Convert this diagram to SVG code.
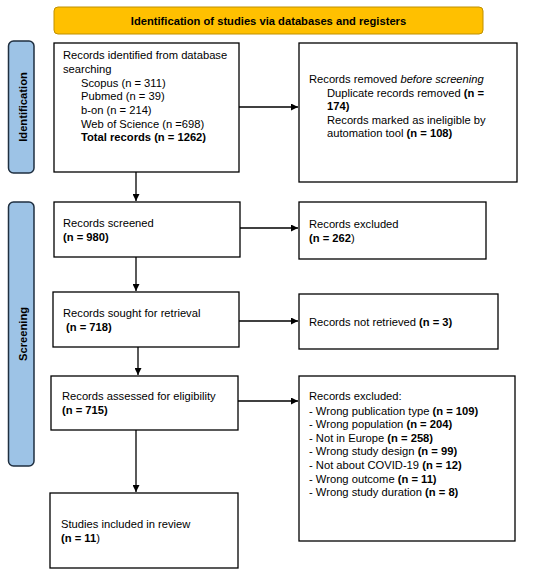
<svg xmlns="http://www.w3.org/2000/svg" width="550" height="575" viewBox="0 0 550 575">
<style>
text{font-family:"Liberation Sans",Arial,sans-serif;font-size:11.2px;fill:#000}
.b{font-weight:bold}
.box{fill:#fff;stroke:#000;stroke-width:1.3}
.side{fill:#9DC3E6;stroke:#1F2F40;stroke-width:1.5}
.hdr{fill:#FFC000;stroke:#BF9000;stroke-width:1}
.con{stroke:#000;stroke-width:1.3;fill:none;marker-end:url(#ah)}
</style>
<defs>
<marker id="ah" viewBox="0 0 10 10" refX="10" refY="5" markerWidth="7" markerHeight="7" markerUnits="userSpaceOnUse" orient="auto">
<path d="M0,0 L10,5 L0,10 z" fill="#000"/>
</marker>
</defs>
<rect width="550" height="575" fill="#fff"/>
<g id="header">
<rect class="hdr" x="54" y="7" width="429" height="27" rx="4"/>
<text class="b" x="268.5" y="24.5" text-anchor="middle" font-size="11.1">Identification of studies via databases and registers</text>
</g>
<g id="side-identification">
<rect class="side" x="8.5" y="41" width="25.5" height="132" rx="5"/>
<text class="b" transform="translate(26.5,107) rotate(-90)" text-anchor="middle" font-size="11">Identification</text>
</g>
<g id="side-screening">
<rect class="side" x="8.5" y="202" width="25.5" height="264" rx="5"/>
<text class="b" transform="translate(26.5,334) rotate(-90)" text-anchor="middle" font-size="11">Screening</text>
</g>
<g id="connectors">
<line class="con" x1="239" y1="107" x2="298" y2="107"/>
<line class="con" x1="136" y1="172" x2="136" y2="201"/>
<line class="con" x1="240" y1="228" x2="298" y2="228"/>
<line class="con" x1="136" y1="257" x2="136" y2="291"/>
<line class="con" x1="239" y1="321" x2="298" y2="321"/>
<line class="con" x1="138" y1="347" x2="138" y2="375"/>
<line class="con" x1="238" y1="401" x2="298" y2="401"/>
<line class="con" x1="136" y1="430" x2="136" y2="492"/>
</g>
<g id="n-identified">
<rect class="box" x="54" y="43" width="185" height="129"/>
<text x="63" y="59">Records identified from database</text>
<text x="63" y="73">searching</text>
<text x="81" y="86.5">Scopus (n = 311)</text>
<text x="81" y="100">Pubmed (n = 39)</text>
<text x="81" y="114">b-on (n = 214)</text>
<text x="81" y="127.5">Web of Science (n =698)</text>
<text x="81" y="141" class="b">Total records (n = 1262)</text>
</g>
<g id="n-removed">
<rect class="box" x="299" y="43" width="218" height="139"/>
<text x="309" y="83">Records removed <tspan font-style="italic">before screening</tspan></text>
<text x="327" y="96.5">Duplicate records removed <tspan class="b">(n =</tspan></text>
<text x="327" y="110" class="b">174)</text>
<text x="327" y="123.5">Records marked as ineligible by</text>
<text x="327" y="137">automation tool <tspan class="b">(n = 108)</tspan></text>
</g>
<g id="n-screened">
<rect class="box" x="54" y="202" width="186" height="55"/>
<text x="63" y="227">Records screened</text>
<text x="63" y="241" class="b">(n = 980)</text>
</g>
<g id="n-excluded1">
<rect class="box" x="299" y="202" width="187" height="57"/>
<text x="309" y="228">Records excluded</text>
<text x="309" y="242"><tspan class="b">(n = 262</tspan>)</text>
</g>
<g id="n-sought">
<rect class="box" x="53" y="292" width="186" height="55"/>
<text x="63" y="317">Records sought for retrieval</text>
<text x="66" y="331" class="b">(n = 718)</text>
</g>
<g id="n-notretrieved">
<rect class="box" x="299" y="294" width="199" height="55"/>
<text x="309" y="326">Records not retrieved <tspan class="b">(n = 3)</tspan></text>
</g>
<g id="n-assessed">
<rect class="box" x="51" y="376" width="187" height="54"/>
<text x="62" y="400">Records assessed for eligibility</text>
<text x="62" y="414" class="b">(n = 715)</text>
</g>
<g id="n-excluded2">
<rect class="box" x="299" y="376" width="216" height="165"/>
<text x="309" y="400">Records excluded:</text>
<text x="309" y="414.5">- Wrong publication type <tspan class="b">(n = 109)</tspan></text>
<text x="309" y="428">- Wrong population <tspan class="b">(n = 204)</tspan></text>
<text x="309" y="441.5">- Not in Europe <tspan class="b">(n = 258)</tspan></text>
<text x="309" y="455">- Wrong study design <tspan class="b">(n = 99)</tspan></text>
<text x="309" y="469">- Not about COVID-19 <tspan class="b">(n = 12)</tspan></text>
<text x="309" y="482.5">- Wrong outcome <tspan class="b">(n = 11)</tspan></text>
<text x="309" y="496">- Wrong study duration <tspan class="b">(n = 8)</tspan></text>
</g>
<g id="n-included">
<rect class="box" x="50" y="493" width="188" height="75"/>
<text x="61" y="528">Studies included in review</text>
<text x="61" y="542"><tspan class="b">(n = 11</tspan>)</text>
</g>
</svg>
